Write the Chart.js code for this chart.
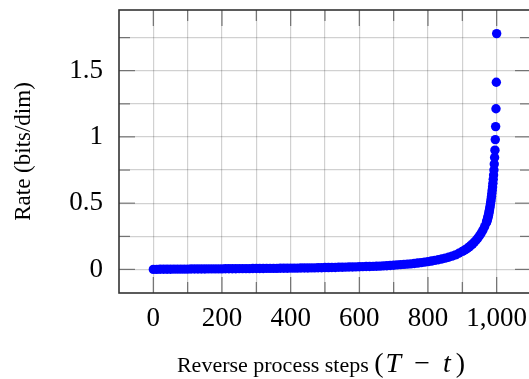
<!DOCTYPE html>
<html><head><meta charset="utf-8">
<script src="https://cdn.jsdelivr.net/npm/chart.js@4.4.0/dist/chart.umd.min.js"></script>
<style>html,body{margin:0;padding:0;overflow:hidden;background:#fff;width:529px;height:379px}canvas{display:block}</style>
</head><body>
<canvas id="c" width="540" height="379"></canvas>
<script>
const steps = [
  0,10,20,30,40,50,60,70,80,90,100,110,120,130,140,150,160,170,180,190,200,
  210,220,230,240,250,260,270,280,290,300,310,320,330,340,350,360,370,380,390,400,
  410,420,430,440,450,460,470,480,490,500,510,520,530,540,550,560,570,580,590,600,
  610,620,630,640,650,660,670,680,690,700,710,720,730,740,750,760,770,780,790,800,
  810,820,830,840,850,860,870,880,890,900,
  905,910,915,920,925,930,935,940,945,950,955,960,965,970,
  971,972,973,974,975,976,977,978,979,980,981,982,983,984,985,
  986,987,988,989,990,991,992,993,994,995,996,997,998,999,1000
];
const rate = [
  0.000,0.000,0.001,0.001,0.001,0.001,0.002,0.002,0.002,0.002,0.002,0.003,0.003,0.003,0.003,0.003,0.004,0.004,0.004,0.004,0.004,
  0.005,0.005,0.005,0.005,0.006,0.006,0.006,0.006,0.007,0.007,0.007,0.007,0.008,0.008,0.008,0.008,0.009,0.009,0.009,0.010,
  0.010,0.010,0.011,0.011,0.011,0.012,0.012,0.013,0.013,0.014,0.014,0.015,0.015,0.016,0.016,0.017,0.018,0.018,0.019,0.020,
  0.021,0.022,0.022,0.023,0.024,0.025,0.027,0.028,0.030,0.032,0.034,0.036,0.038,0.040,0.042,0.045,0.048,0.051,0.055,0.059,
  0.063,0.068,0.073,0.079,0.085,0.092,0.100,0.110,0.122,0.136,
  0.143,0.151,0.160,0.170,0.181,0.193,0.206,0.220,0.236,0.254,0.274,0.297,0.323,0.352,
  0.360,0.369,0.378,0.388,0.398,0.409,0.421,0.434,0.448,0.463,0.479,0.496,0.514,0.533,0.553,
  0.575,0.598,0.623,0.650,0.680,0.713,0.750,0.795,0.845,0.900,0.980,1.078,1.213,1.413,1.780
];
const xTickValues = [0,100,200,300,400,500,600,700,800,900,1000];
const xTickLabels = ['0','','200','','400','','600','','800','','1,000'];
const yTickValues = [0,0.25,0.5,0.75,1,1.25,1.5,1.75];
const yTickLabels = ['0','','0.5','','1','','1.5',''];
const yTitle = 'Rate (bits/dim)';
const xTitleText = 'Reverse process steps ';
const xTitleMath = [['(', false], ['T', true], ['\u2212', false], ['t', true], [')', false]];

const points = steps.map((s, i) => ({x: s, y: rate[i]}));

const framePlugin = {
  id: 'frame',
  beforeDatasetsDraw(chart) {
    const ctx = chart.ctx;
    const {left, right, top, bottom} = chart.chartArea;
    const xs = chart.scales.x, ys = chart.scales.y;
    ctx.save();
    ctx.strokeStyle = 'rgba(0,0,0,0.45)';
    ctx.lineWidth = 1.3;
    ctx.beginPath();
    xTickValues.forEach((v, i) => {
      const p = xs.getPixelForValue(v);
      const len = xTickLabels[i] ? 16 : 11;
      ctx.moveTo(p, top); ctx.lineTo(p, top + len);
      ctx.moveTo(p, bottom); ctx.lineTo(p, bottom - len);
    });
    yTickValues.forEach((v, i) => {
      const p = ys.getPixelForValue(v);
      const len = yTickLabels[i] ? 16 : 11;
      ctx.moveTo(left, p); ctx.lineTo(left + len, p);
      ctx.moveTo(right, p); ctx.lineTo(right - len, p);
    });
    ctx.stroke();
    ctx.restore();
  },
  afterDatasetsDraw(chart) {
    const ctx = chart.ctx;
    const {left, right, top, bottom} = chart.chartArea;
    ctx.save();
    ctx.strokeStyle = '#333';
    ctx.lineWidth = 1.6;
    ctx.strokeRect(left, top, right - left, bottom - top);
    ctx.restore();
  },
  afterDraw(chart) {
    const ctx = chart.ctx;
    const {left, right} = chart.chartArea;
    ctx.save();
    ctx.fillStyle = '#000';
    ctx.textBaseline = 'alphabetic';
    const textFont = '22px "Liberation Serif"';
    const mathFont = '28px "Liberation Serif"';
    const mathItalic = 'italic 28px "Liberation Serif"';
    const gaps = [0, 2, 13, 13, 5];
    ctx.font = textFont;
    let total = ctx.measureText(xTitleText).width;
    const widths = xTitleMath.map(([s, it], i) => {
      ctx.font = it ? mathItalic : mathFont;
      const w = ctx.measureText(s).width;
      total += w + gaps[i];
      return w;
    });
    let x = (left + right) / 2 - 4 - total / 2;
    const y = 372;
    ctx.font = textFont;
    ctx.fillText(xTitleText, x, y);
    x += ctx.measureText(xTitleText).width;
    xTitleMath.forEach(([s, it], i) => {
      x += gaps[i];
      ctx.font = it ? mathItalic : mathFont;
      ctx.fillText(s, x, y);
      x += widths[i];
    });
    ctx.restore();
  }
};

new Chart(document.getElementById('c'), {
  type: 'scatter',
  data: {
    datasets: [{
      data: points,
      backgroundColor: '#0000ff',
      borderColor: '#0000ff',
      borderWidth: 0,
      pointRadius: 4.7,
      pointHoverRadius: 4.7
    }]
  },
  options: {
    responsive: false,
    devicePixelRatio: 1,
    animation: false,
    events: [],
    layout: {padding: {left: 0, right: 9, top: 10, bottom: 0}},
    plugins: {legend: {display: false}, tooltip: {enabled: false}},
    scales: {
      x: {
        type: 'linear',
        min: -100,
        max: 1100,
        afterBuildTicks: s => { s.ticks = xTickValues.map(v => ({value: v})); },
        afterFit: s => { s.height = 86; s.paddingLeft = 0; s.paddingRight = 0; },
        grid: {color: 'rgba(0,0,0,0.18)', lineWidth: 1.2, drawTicks: false},
        border: {display: false},
        ticks: {
          autoSkip: false, maxRotation: 0, padding: 10,
          color: '#000',
          font: {family: 'Liberation Serif', size: 27},
          callback: (v, i) => xTickLabels[i]
        }
      },
      y: {
        type: 'linear',
        min: -0.178,
        max: 1.958,
        afterBuildTicks: s => { s.ticks = yTickValues.map(v => ({value: v})); },
        afterFit: s => { s.width = 119; s.paddingTop = 0; s.paddingBottom = 0; },
        grid: {color: 'rgba(0,0,0,0.18)', lineWidth: 1.2, drawTicks: false},
        border: {display: false},
        title: {
          display: true, text: yTitle, color: '#000',
          font: {family: 'Liberation Serif', size: 23},
          padding: {top: 10, bottom: 0}
        },
        ticks: {
          padding: 16,
          color: '#000',
          font: {family: 'Liberation Serif', size: 27},
          callback: (v, i) => yTickLabels[i]
        }
      }
    }
  },
  plugins: [framePlugin]
});
</script>
</body></html>
